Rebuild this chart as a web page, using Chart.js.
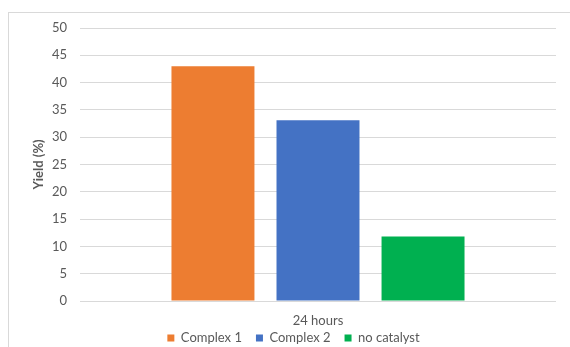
<!DOCTYPE html>
<html>
<head>
<meta charset="utf-8">
<script src="https://cdn.jsdelivr.net/npm/chart.js@4/dist/chart.umd.min.js"></script>
<style>
  html, body { margin: 0; padding: 0; background: #fff; }
  #wrap { position: relative; width: 570px; height: 347px; overflow: hidden; }
  #frame { position: absolute; left: 8px; top: 12px; width: 600px; height: 400px; border: 1px solid #d9d9d9; box-sizing: border-box; }
  #c { position: absolute; left: 0; top: 0; }
</style>
</head>
<body>
<div id="wrap">
  <div id="frame"></div>
  <canvas id="c" width="570" height="347"></canvas>
</div>
<script>
const categories = ['24 hours'];
const seriesNames = ['Complex 1', 'Complex 2', 'no catalyst'];
const complex1 = [43];
const complex2 = [33.1];
const noCatalyst = [11.8];
const yTitle = 'Yield (%)';

const colors = ['#ED7D31', '#4472C4', '#00B050'];
const font = { family: 'Lato, "Liberation Sans", sans-serif', size: 13 };
const titleFont = { family: 'Lato, "Liberation Sans", sans-serif', size: 13, weight: 'bold' };
const textColor = '#595959';

const legendShift = {
  id: 'legendShift',
  afterLayout(chart) {
    const lg = chart.legend;
    if (!lg) return;
    lg.top = 317.5;
    lg.bottom = 347;
    lg.height = 29.5;
  }
};

const chart = new Chart(document.getElementById('c'), {
  type: 'bar',
  data: {
    labels: categories,
    datasets: [
      { label: seriesNames[0], data: complex1, backgroundColor: colors[0] },
      { label: seriesNames[1], data: complex2, backgroundColor: colors[1] },
      { label: seriesNames[2], data: noCatalyst, backgroundColor: colors[2] }
    ]
  },
  plugins: [legendShift],
  options: {
    responsive: false,
    animation: false,
    devicePixelRatio: 1,
    layout: { padding: { left: 31, right: 14, top: 28, bottom: 0 } },
    datasets: { bar: { categoryPercentage: 0.662, barPercentage: 0.79 } },
    plugins: {
      legend: {
        position: 'bottom',
        labels: { boxWidth: 7, boxHeight: 7, padding: 14, color: textColor, font: font }
      },
      tooltip: { enabled: false }
    },
    scales: {
      x: {
        grid: { display: false, drawTicks: false },
        border: { display: false },
        ticks: { color: textColor, font: font, padding: 12 },
        afterFit: (s) => { s.height = 29; }
      },
      y: {
        min: 0, max: 50,
        ticks: { stepSize: 5, color: textColor, font: font, padding: 13 },
        grid: { color: '#d9d9d9', drawTicks: false, lineWidth: 1 },
        border: { display: false },
        title: { display: true, text: yTitle, color: textColor, font: titleFont, padding: 0 },
        afterFit: (s) => { s.width = 49; }
      }
    }
  }
});
const lg = chart.legend;
const origFit = lg.fit;
lg.fit = function () { origFit.call(this); this.height = 17; };
chart.update();
</script>
</body>
</html>
